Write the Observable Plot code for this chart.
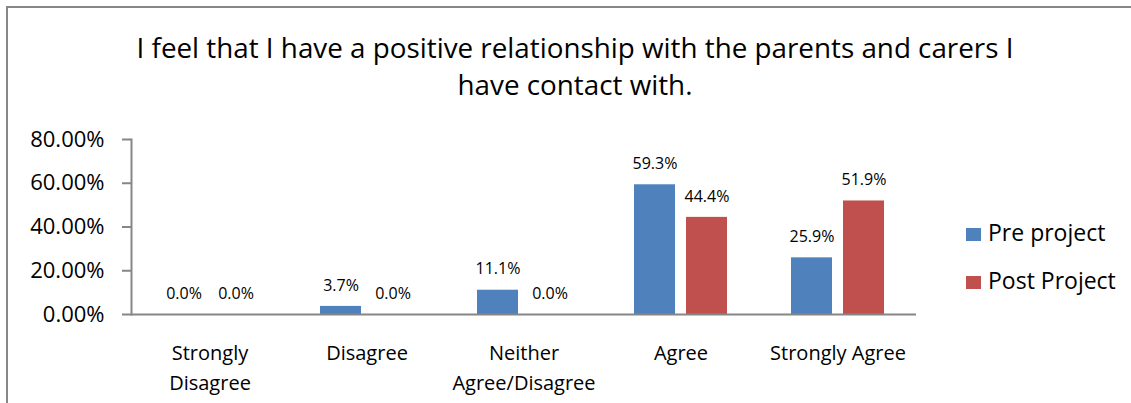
<!DOCTYPE html>
<html>
<head>
<meta charset="utf-8">
<script src="https://cdn.jsdelivr.net/npm/d3@7"></script>
<script src="https://cdn.jsdelivr.net/npm/@observablehq/plot@0.6"></script>
<style>
  html, body { margin: 0; padding: 0; background: #fff; overflow: hidden; }
  #wrap { position: relative; width: 1131px; height: 403px; overflow: hidden; font-family: "Open Sans", sans-serif; color: #000; }
  #frame { position: absolute; left: 6px; top: 6px; width: 1160px; height: 430px; border: 2px solid #878787; box-sizing: border-box; }
  #title { position: absolute; left: 6px; width: 1138px; top: 29px; text-align: center; font-size: 27.8px; line-height: 37px; }
  #chart { position: absolute; left: 0; top: 0; }
  .lg-sw { position: absolute; width: 15px; height: 13px; }
  .lg-tx { position: absolute; font-size: 23px; line-height: 30px; white-space: nowrap; }
</style>
</head>
<body>
<div id="wrap">
  <div id="frame"></div>
  <div id="title">I feel that I have a positive relationship with the parents and carers I<br>have contact with.</div>
  <div id="chart"></div>
  <div id="legend"></div>
</div>
<script>
const categories = ["Strongly Disagree", "Disagree", "Neither Agree/Disagree", "Agree", "Strongly Agree"];
const categoryLabels = ["Strongly\nDisagree", "Disagree", "Neither\nAgree/Disagree", "Agree", "Strongly Agree"];
const series = ["Pre project", "Post Project"];
const preProject = [0.0, 0.037, 0.111, 0.593, 0.259];
const postProject = [0.0, 0.0, 0.0, 0.444, 0.519];
const yTicks = [0, 0.2, 0.4, 0.6, 0.8];
const colors = ["#4F81BD", "#C0504D"];

const data = categories.flatMap((c, i) => [
  {category: c, series: series[0], value: preProject[i]},
  {category: c, series: series[1], value: postProject[i]}
]);

const axisColor = "#868686";

const chart = Plot.plot({
  width: 1131,
  height: 403,
  marginTop: 139,
  marginBottom: 89,
  marginLeft: 129,
  marginRight: 213,
  style: {fontFamily: "'Open Sans', sans-serif", background: "transparent", color: "#000"},
  fx: {domain: categories, padding: 0, label: null},
  x: {domain: series, paddingInner: 0.205, paddingOuter: 0.61, axis: null},
  y: {domain: [0, 0.8]},
  color: {domain: series, range: colors},
  marks: [
    Plot.barY(data, {fx: "category", x: "series", y: "value", fill: "series"}),
    Plot.text(data, {
      fx: "category", x: "series", y: "value",
      text: d => (d.value * 100).toFixed(1) + "%",
      dy: -21, fontSize: 16, fill: "#000"
    }),
    Plot.ruleY([0], {stroke: axisColor, strokeWidth: 2}),
    Plot.frame({anchor: "left", facetAnchor: "left", stroke: axisColor, strokeWidth: 2}),
    Plot.axisY({
      ticks: yTicks,
      tickFormat: d => (d * 100).toFixed(2) + "%",
      tickSize: 9, tickPadding: 18, fontSize: 22,
      stroke: axisColor, strokeWidth: 2, fill: "#000", label: null
    }),
    Plot.axisFx({
      anchor: "bottom",
      tickFormat: d => categoryLabels[categories.indexOf(d)],
      tickSize: 0, tickPadding: 24, fontSize: 20, lineHeight: 1.5,
      fill: "#000", label: null
    })
  ]
});
document.getElementById("chart").appendChild(chart);

const legend = document.getElementById("legend");
series.forEach((s, i) => {
  const sw = document.createElement("div");
  sw.className = "lg-sw";
  sw.style.left = "966px";
  sw.style.top = (228 + 48 * i) + "px";
  sw.style.background = colors[i];
  legend.appendChild(sw);
  const tx = document.createElement("div");
  tx.className = "lg-tx";
  tx.style.left = "988px";
  tx.style.top = (217 + 48 * i) + "px";
  tx.textContent = s;
  legend.appendChild(tx);
});
</script>
</body>
</html>
